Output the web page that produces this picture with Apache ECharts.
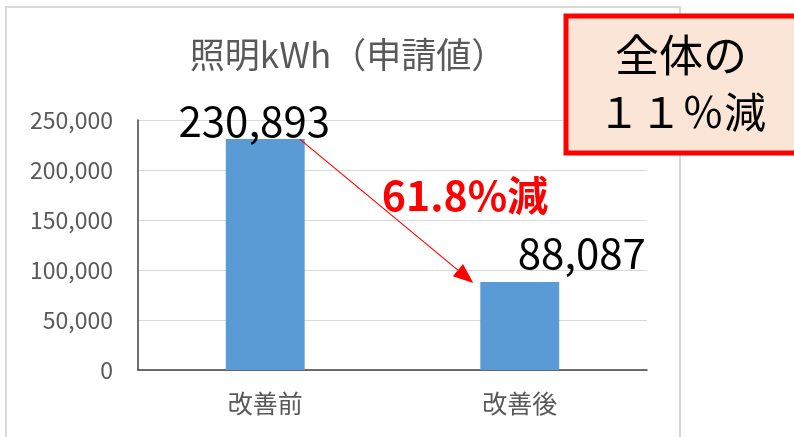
<!DOCTYPE html>
<html>
<head>
<meta charset="utf-8">
<script src="https://cdn.jsdelivr.net/npm/echarts@6/dist/echarts.min.js"></script>
<style>
  html, body { margin: 0; padding: 0; background: #fff; }
  #main { width: 794px; height: 437px; }
</style>
</head>
<body>
<div id="main"></div>
<script>
var categories = ['改善前', '改善後'];
var values = [230893, 88087];
var yTicks = [0, 50000, 100000, 150000, 200000, 250000];
var titleText = '照明kWh（申請値）';
var dropText = '61.8%減';
var boxLines = ['全体の', '１１％減'];

// label offsets per bar (style only)
var labelOffsets = [[-11, 3], [62, -8]];

var font = '"Noto Sans CJK JP", "Noto Sans", sans-serif';
var chart = echarts.init(document.getElementById('main'));

var barData = [];
for (var i = 0; i < values.length; i++) {
    barData.push({
        value: values[i],
        label: { offset: labelOffsets[i] }
    });
}

function fmt(v) {
    return (v + '').replace(/(\d{1,3})(?=(?:\d{3})+(?!\d))/g, '$1,');
}

var option = {
    animation: false,
    textStyle: { fontFamily: font },
    grid: { left: 138, right: 147, top: 120, bottom: 67 },
    xAxis: {
        type: 'category',
        data: categories,
        axisLine: { lineStyle: { color: '#404040', width: 1.5 } },
        axisTick: { show: false },
        axisLabel: { color: '#595959', fontSize: 25, margin: 21, fontFamily: font }
    },
    yAxis: {
        type: 'value',
        min: yTicks[0],
        max: yTicks[yTicks.length - 1],
        interval: yTicks[1] - yTicks[0],
        axisLine: { show: true, lineStyle: { color: '#404040', width: 1.5 } },
        axisTick: { show: false },
        splitLine: { lineStyle: { color: '#d9d9d9', width: 1 } },
        axisLabel: {
            color: '#595959', fontSize: 23, margin: 25, fontFamily: font,
            formatter: function (v) { return fmt(v); }
        }
    },
    series: [{
        type: 'bar',
        data: barData,
        barWidth: '31%',
        itemStyle: { color: '#5b9bd5' },
        label: {
            show: true,
            position: 'top',
            distance: 0,
            color: '#000',
            fontSize: 42,
            fontFamily: font,
            formatter: function (p) { return fmt(p.value); }
        }
    }]
};
chart.setOption(option);

// arrow between the bars, positions from the chart's own scales
var p0 = chart.convertToPixel({ seriesIndex: 0 }, [0, values[0]]);
var p1 = chart.convertToPixel({ seriesIndex: 0 }, [1, values[1]]);
var halfBar = 0.31 * (chart.convertToPixel({ xAxisIndex: 0 }, 1) - chart.convertToPixel({ xAxisIndex: 0 }, 0)) / 2;
var sx = p0[0] + halfBar - 5, sy = p0[1];
var ex = p1[0] - halfBar - 7, ey = p1[1] + 1;
var ang = Math.atan2(ey - sy, ex - sx);
var hl = 20, hw = 8;
var bx = ex - hl * Math.cos(ang), by = ey - hl * Math.sin(ang);
var nx = -Math.sin(ang) * hw, ny = Math.cos(ang) * hw;

chart.setOption({
    graphic: [
        {
            type: 'rect', silent: true, z: -10,
            shape: { x: 6, y: 7, width: 674, height: 460 },
            style: { fill: 'none', stroke: '#d9d9d9', lineWidth: 2 }
        },
        {
            type: 'text', silent: true,
            style: {
                text: titleText, x: 348, y: 55, align: 'center', verticalAlign: 'middle',
                fill: '#595959', fontSize: 35, fontFamily: font
            }
        },
        {
            type: 'line', silent: true, z: 20,
            shape: { x1: sx, y1: sy, x2: bx, y2: by },
            style: { stroke: '#ff0000', lineWidth: 1.2 }
        },
        {
            type: 'polygon', silent: true, z: 20,
            shape: { points: [[ex, ey], [bx + nx, by + ny], [bx - nx, by - ny]] },
            style: { fill: '#ff0000' }
        },
        {
            type: 'text', silent: true, z: 21,
            style: {
                text: dropText, x: 465, y: 195, align: 'center', verticalAlign: 'middle',
                fill: '#ff0000', fontSize: 41, fontWeight: 'bold', fontFamily: font
            }
        },
        {
            type: 'rect', silent: true, z: 30,
            shape: { x: 566, y: 16, width: 240, height: 137 },
            style: { fill: '#fbe5d6', stroke: '#ff0000', lineWidth: 5 }
        },
        {
            type: 'text', silent: true, z: 31,
            style: {
                text: boxLines[0], x: 681, y: 55, align: 'center', verticalAlign: 'middle',
                fill: '#000', fontSize: 44, fontFamily: font
            }
        },
        {
            type: 'text', silent: true, z: 31,
            style: {
                text: boxLines[1], x: 682, y: 112, align: 'center', verticalAlign: 'middle',
                fill: '#000', fontSize: 42, fontFamily: font
            }
        }
    ]
});
</script>
</body>
</html>
